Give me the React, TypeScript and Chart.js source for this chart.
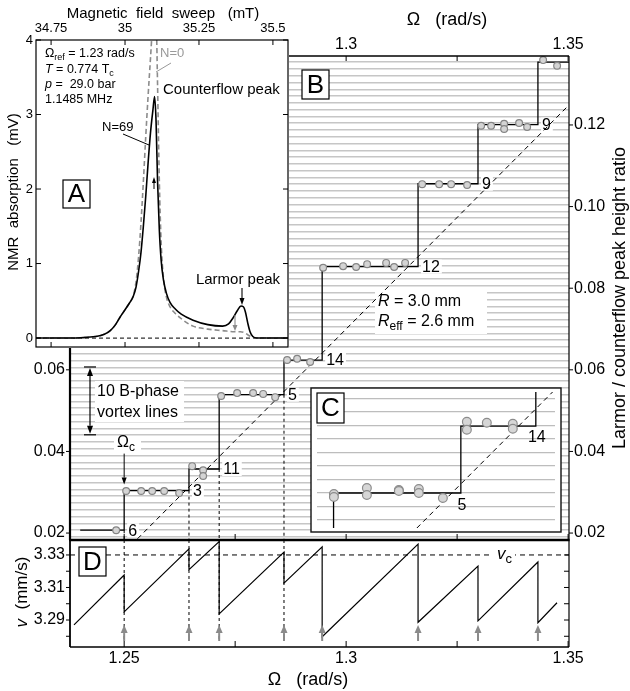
import React, { useEffect, useRef } from "react";
import { Chart, registerables } from "chart.js";
Chart.register(...registerables);

const FF = '"Liberation Sans", Arial, Helvetica, sans-serif';
const W = 630;
const H = 691;

// ---------- shared rotation axis (panels B and D) ----------
const omegaMin = 1.2378;
const omegaMax = 1.3502;
const omegaTicks = [1.25, 1.275, 1.3, 1.325, 1.35];
const omegaTopLabels = ["", "", "1.3", "", "1.35"];
const omegaBottomLabels = ["1.25", "", "1.3", "", "1.35"];

// ---------- panel B ----------
const ratioMin = 0.0183;
const ratioMax = 0.1369;
const ratioTicksRight = [0.02, 0.04, 0.06, 0.08, 0.1, 0.12];
const ratioLabelsRight = ["0.02", "0.04", "0.06", "0.08", "0.10", "0.12"];
const ratioTicksLeft = [0.02, 0.04, 0.06];
const ratioLabelsLeft = ["0.02", "0.04", "0.06"];
const vortexLineSpacing = 0.001662;
const vortexLineBase = 0.0207;

const stepStartOmega = 1.2401;
const jumpOmega = [1.25, 1.2646, 1.2714, 1.286, 1.2946, 1.3162, 1.3297, 1.3432];
const stepLevels = [0.0207, 0.0304, 0.0357, 0.0539, 0.0624, 0.0853, 0.1056, 0.1201, 0.1354];
const jumpCounts = ["6", "3", "11", "5", "14", "12", "9", "9"];

const pointOmega = [
  1.2482, 1.25045, 1.25383, 1.25631, 1.25901, 1.26239, 1.26532, 1.26779, 1.26779,
  1.27185, 1.27545, 1.27905, 1.28131, 1.28401, 1.28671, 1.28896, 1.29189, 1.29482,
  1.29932, 1.30225, 1.30473, 1.30901, 1.31081, 1.31329, 1.31712, 1.32095, 1.32365,
  1.32725, 1.33041, 1.33266, 1.33559, 1.33559, 1.33896, 1.34077, 1.34437, 1.34752,
];
const pointRatio = [
  0.0207, 0.0303, 0.0303, 0.0303, 0.0303, 0.0298, 0.0364, 0.0354, 0.034,
  0.0536, 0.0543, 0.0543, 0.0541, 0.0533, 0.0624, 0.0627, 0.0619, 0.085,
  0.0854, 0.0852, 0.0859, 0.0862, 0.0852, 0.0862, 0.1055, 0.1055, 0.1055,
  0.1053, 0.1198, 0.1198, 0.1203, 0.119, 0.1205, 0.1195, 0.1359, 0.1345,
];
const diagOmega = [1.253, 1.3502];
const diagRatio = [0.0186, 0.1249];

// ---------- panel D ----------
const vMin = 3.2734;
const vMax = 3.3392;
const vTicks = [3.28, 3.29, 3.3, 3.31, 3.32, 3.33];
const vLabels = ["", "3.29", "", "3.31", "", "3.33"];
const vCritical = 3.33;
const sawStartOmega = 1.2387;
const sawStartV = 3.287;
const sawBefore = [3.3177, 3.3337, 3.3382, 3.3318, 3.335, 3.3367, 3.3232, 3.3257];
const sawAfter = [3.295, 3.321, 3.2938, 3.3127, 3.2797, 3.2886, 3.2895, 3.2883];
const sawEndOmega = 1.3475;
const sawEndV = 3.3006;
const arrowTipV = 3.2869;
const arrowTailV = 3.2771;

// ---------- inset A ----------
const fieldMin = 34.699;
const fieldMax = 35.551;
const fieldTicks = [34.75, 35, 35.25, 35.5];
const fieldLabels = ["34.75", "35", "35.25", "35.5"];
const absMin = -0.12;
const absMax = 4.0;
const absTicks = [0, 1, 2, 3, 4];
const absLabels = ["0", "1", "2", "3", "4"];
const fieldN69 = [
  34.699, 34.78, 34.85, 34.9, 34.93, 34.95, 34.966, 34.983, 35.0, 35.015, 35.027, 35.037,
  35.046, 35.054, 35.062, 35.07, 35.078, 35.086, 35.094, 35.1, 35.105, 35.11, 35.116,
  35.122, 35.13, 35.14, 35.152, 35.17, 35.19, 35.23, 35.28, 35.33, 35.35, 35.365, 35.38,
  35.392, 35.4, 35.407, 35.415, 35.423, 35.432, 35.445, 35.551,
];
const absN69 = [
  0, 0, 0.005, 0.02, 0.05, 0.1, 0.17, 0.28, 0.38, 0.47, 0.55, 0.68, 0.9, 1.15, 1.5, 1.9,
  2.35, 2.75, 3.05, 3.24, 2.9, 2.1, 1.45, 1.05, 0.78, 0.6, 0.48, 0.39, 0.32, 0.24, 0.18,
  0.16, 0.19, 0.27, 0.37, 0.43, 0.42, 0.35, 0.2, 0.08, 0.02, 0, 0,
];
const fieldN0 = [
  34.699, 34.78, 34.85, 34.9, 34.93, 34.95, 34.966, 34.983, 35.0, 35.015, 35.027, 35.037,
  35.046, 35.054, 35.062, 35.07, 35.078, 35.086, 35.093, 35.1, 35.106, 35.11, 35.116,
  35.122, 35.13, 35.14, 35.152, 35.17, 35.19, 35.23, 35.28, 35.33, 35.37, 35.39, 35.405,
  35.42, 35.435, 35.45, 35.551,
];
const absN0 = [
  0, 0, 0.005, 0.02, 0.05, 0.1, 0.17, 0.28, 0.38, 0.47, 0.56, 0.75, 1.1, 1.55, 2.1, 2.7,
  3.25, 3.75, 4.2, 4.6, 4.2, 3.4, 2.1, 1.3, 0.8, 0.55, 0.42, 0.33, 0.26, 0.16, 0.12, 0.1,
  0.085, 0.085, 0.07, 0.03, 0.005, 0, 0,
];

// ---------- inset C ----------
const cOmegaMin = 1.2695;
const cOmegaMax = 1.2968;
const cRatioMin = 0.0495;
const cRatioMax = 0.0662;
const cGridBase = 0.0538;
const cStepOmega = [1.2714, 1.2714, 1.286, 1.2946];
const cStepRatio = [0.0495, 0.0538, 0.062, 0.0662];
const cJumpLabels = ["5", "14"];
const cPointOmega = [
  1.27144, 1.27144, 1.27522, 1.27522, 1.27889, 1.27889, 1.28118, 1.28118, 1.28394,
  1.28669, 1.28669, 1.28898, 1.29196, 1.29196,
];
const cPointRatio = [
  0.05368, 0.05331, 0.05442, 0.05355, 0.05417, 0.05405, 0.05429, 0.0538, 0.05318,
  0.06254, 0.06156, 0.06242, 0.0623, 0.06168,
];
const cDiagOmega = [1.28095, 1.29655];
const cDiagRatio = [0.04949, 0.06623];

// ---------- helpers ----------
type Seg = { t: string; it?: boolean; sub?: boolean };

function richText(ctx: any, segs: Seg[], x: number, y: number, size: number, align = "left", color = "#000") {
  ctx.save();
  ctx.fillStyle = color;
  ctx.textBaseline = "middle";
  ctx.textAlign = "left";
  const fontOf = (s: Seg) => `${s.it ? "italic " : ""}${s.sub ? Math.round(size * 0.74) : size}px ${FF}`;
  let total = 0;
  for (const s of segs) {
    ctx.font = fontOf(s);
    total += ctx.measureText(s.t).width;
  }
  let cx = align === "center" ? x - total / 2 : align === "right" ? x - total : x;
  for (const s of segs) {
    ctx.font = fontOf(s);
    ctx.fillText(s.t, cx, s.sub ? y + size * 0.3 : y);
    cx += ctx.measureText(s.t).width;
  }
  ctx.restore();
  return total;
}

function seg(ctx: any, x1: number, y1: number, x2: number, y2: number, color = "#000", lw = 1, dash: number[] = []) {
  ctx.save();
  ctx.strokeStyle = color;
  ctx.lineWidth = lw;
  ctx.setLineDash(dash);
  ctx.beginPath();
  ctx.moveTo(x1, y1);
  ctx.lineTo(x2, y2);
  ctx.stroke();
  ctx.restore();
}

function arrow(ctx: any, x1: number, y1: number, x2: number, y2: number, color = "#000", lw = 1, hl = 7, hw = 6) {
  ctx.save();
  ctx.strokeStyle = color;
  ctx.fillStyle = color;
  ctx.lineWidth = lw;
  const a = Math.atan2(y2 - y1, x2 - x1);
  const bx = x2 - hl * Math.cos(a);
  const by = y2 - hl * Math.sin(a);
  ctx.beginPath();
  ctx.moveTo(x1, y1);
  ctx.lineTo(bx, by);
  ctx.stroke();
  ctx.beginPath();
  ctx.moveTo(x2, y2);
  ctx.lineTo(bx + (hw / 2) * Math.sin(a), by - (hw / 2) * Math.cos(a));
  ctx.lineTo(bx - (hw / 2) * Math.sin(a), by + (hw / 2) * Math.cos(a));
  ctx.closePath();
  ctx.fill();
  ctx.restore();
}

function letterBox(ctx: any, x: number, y: number, w: number, h: number, letter: string) {
  ctx.save();
  ctx.fillStyle = "#fff";
  ctx.fillRect(x, y, w, h);
  ctx.strokeStyle = "#000";
  ctx.lineWidth = 1.2;
  ctx.strokeRect(x, y, w, h);
  ctx.fillStyle = "#000";
  ctx.font = `26px ${FF}`;
  ctx.textAlign = "center";
  ctx.textBaseline = "middle";
  ctx.fillText(letter, x + w / 2, y + h / 2 + 1);
  ctx.restore();
}

function rotatedText(ctx: any, text: Seg[], x: number, y: number, size: number) {
  ctx.save();
  ctx.translate(x, y);
  ctx.rotate(-Math.PI / 2);
  richText(ctx, text, 0, 0, size, "center");
  ctx.restore();
}

// axis whose box has a fixed thickness, so that the chart area lands on exact pixels
function axis(position: string, min: number, max: number, values: number[], labels: string[] | null, thick: number, size = 16, pad = 4) {
  return {
    type: "linear",
    position,
    min,
    max,
    afterBuildTicks: (s: any) => {
      s.ticks = values.map((v) => ({ value: v }));
    },
    afterFit: (s: any) => {
      if (s.isHorizontal()) s.height = thick;
      else s.width = thick;
    },
    grid: { display: false, drawTicks: false },
    border: { display: false },
    ticks: {
      display: !!labels,
      autoSkip: false,
      maxRotation: 0,
      minRotation: 0,
      padding: pad,
      color: "#000",
      font: { family: FF, size },
      callback: (_v: any, i: number) => (labels ? labels[i] : ""),
    },
  };
}

function gridAxis(min: number, max: number, base: number, step: number, color: string, lw: number) {
  return {
    type: "linear",
    position: "left",
    min,
    max,
    afterBuildTicks: (s: any) => {
      const t: any[] = [];
      for (let k = -40; k <= 120; k++) {
        const v = base + k * step;
        if (v >= min && v <= max) t.push({ value: v });
      }
      s.ticks = t;
    },
    afterFit: (s: any) => {
      s.width = 0;
    },
    border: { display: false },
    ticks: { display: false },
    grid: { color, lineWidth: lw, drawTicks: false },
  };
}

const baseOptions = (padding: any, scales: any) => ({
  responsive: false,
  animation: false,
  devicePixelRatio: 1,
  events: [],
  layout: { padding },
  plugins: { legend: { display: false }, tooltip: { enabled: false }, title: { display: false } },
  scales,
});

const xy = (xs: number[], ys: number[]) => xs.map((x, i) => ({ x, y: ys[i] }));

// ---------- chart B ----------
function makeB(): any {
  const stepData = [
    { x: stepStartOmega, y: stepLevels[0] },
    ...jumpOmega.map((j, i) => ({ x: j, y: stepLevels[i + 1] })),
    { x: omegaMax, y: stepLevels[stepLevels.length - 1] },
  ];
  const verticals = jumpOmega.slice(0, 4).map((j, i) => ({
    type: "line",
    data: [
      { x: j, y: stepLevels[i] },
      { x: j, y: ratioMin },
    ],
    xAxisID: "x",
    yAxisID: "yR",
    borderColor: "#000",
    borderWidth: 1,
    borderDash: [3, 3],
    pointRadius: 0,
    order: 2,
  }));
  const decor = {
    id: "bDecor",
    beforeDatasetsDraw(chart: any) {
      const ctx = chart.ctx;
      const x = chart.scales.x;
      const y = chart.scales.yR;
      ctx.save();
      ctx.fillStyle = "#fff";
      ctx.font = `16px ${FF}`;
      jumpOmega.forEach((j, i) => {
        const px = x.getPixelForValue(j) + 3;
        const py = y.getPixelForValue(stepLevels[i]);
        const w = ctx.measureText(jumpCounts[i]).width;
        ctx.fillRect(px, py - 7, w + 3, 14);
      });
      ctx.fillRect(95, 381, 89, 41);
      ctx.fillRect(114, 436, 27, 17);
      ctx.fillRect(375, 292, 112, 42);
      ctx.restore();
    },
    afterDraw(chart: any) {
      const ctx = chart.ctx;
      const ca = chart.chartArea;
      const x = chart.scales.x;
      const y = chart.scales.yR;
      seg(ctx, ca.left, ca.top, ca.right, ca.top, "#000", 1.5);
      seg(ctx, ca.right, ca.top, ca.right, ca.bottom, "#000", 1.2);
      seg(ctx, ca.left, ca.top, ca.left, ca.bottom, "#000", 2.2);
      seg(ctx, ca.left - 1, ca.bottom, ca.right + 0.6, ca.bottom, "#000", 2.6);
      omegaTicks.forEach((v) => {
        const px = x.getPixelForValue(v);
        seg(ctx, px, ca.top, px, ca.top + 5);
        seg(ctx, px, ca.bottom, px, ca.bottom - 6);
      });
      ratioTicksRight.forEach((v) => {
        const py = y.getPixelForValue(v);
        seg(ctx, ca.right, py, ca.right + 4, py);
      });
      ratioTicksLeft.forEach((v) => {
        const py = y.getPixelForValue(v);
        seg(ctx, ca.left - 4, py, ca.left, py);
      });
      ctx.save();
      ctx.fillStyle = "#000";
      ctx.font = `16px ${FF}`;
      ctx.textAlign = "left";
      ctx.textBaseline = "middle";
      jumpOmega.forEach((j, i) => {
        ctx.fillText(jumpCounts[i], x.getPixelForValue(j) + 4, y.getPixelForValue(stepLevels[i]) + 1);
      });
      ctx.fillText("10 B-phase", 97, 392);
      ctx.fillText("vortex lines", 97, 413);
      ctx.restore();
      letterBox(ctx, 302, 70, 27, 29, "B");
      // bracket of ten vortex lines
      const bx = 90;
      const topPx = y.getPixelForValue(0.0607);
      const botPx = y.getPixelForValue(0.0607 - 10 * vortexLineSpacing);
      seg(ctx, bx - 6, topPx, bx + 6, topPx, "#000", 1.2);
      seg(ctx, bx - 6, botPx, bx + 6, botPx, "#000", 1.2);
      const mid = (topPx + botPx) / 2;
      arrow(ctx, bx, mid, bx, topPx + 1, "#000", 1.2, 8, 6);
      arrow(ctx, bx, mid, bx, botPx - 1, "#000", 1.2, 8, 6);
      // Omega_c
      const cx = x.getPixelForValue(jumpOmega[0]);
      const cy = y.getPixelForValue(stepLevels[1]);
      richText(ctx, [{ t: "Ω" }, { t: "c", sub: true }], 117, 443, 16);
      arrow(ctx, cx, cy - 37, cx, cy - 6, "#000", 1, 7, 5);
      richText(ctx, [{ t: "R", it: true }, { t: " = 3.0 mm" }], 378, 302, 16);
      richText(ctx, [{ t: "R", it: true }, { t: "eff", sub: true }, { t: " = 2.6 mm" }], 378, 322, 16);
      richText(ctx, [{ t: "Ω" }, { t: "   (rad/s)" }], 447, 20, 18, "center");
      rotatedText(ctx, [{ t: "Larmor / counterflow peak height ratio" }], 620, 298, 18);
    },
  };
  return {
    type: "line",
    data: {
      datasets: [
        {
          type: "line",
          data: xy(pointOmega, pointRatio),
          xAxisID: "x",
          yAxisID: "yR",
          showLine: false,
          pointRadius: 3.4,
          pointBackgroundColor: "#d4d4d4",
          pointBorderColor: "#858585",
          pointBorderWidth: 1.2,
          order: 0,
        },
        {
          type: "line",
          data: stepData,
          xAxisID: "x",
          yAxisID: "yR",
          stepped: "before",
          borderColor: "#000",
          borderWidth: 1.3,
          pointRadius: 0,
          order: 1,
        },
        ...verticals,
        {
          type: "line",
          data: xy(diagOmega, diagRatio),
          xAxisID: "x",
          yAxisID: "yR",
          borderColor: "#000",
          borderWidth: 1,
          borderDash: [5, 4],
          pointRadius: 0,
          order: 3,
        },
      ],
    },
    options: baseOptions(
      { left: 0, top: 0, right: 0, bottom: H - 540 },
      {
        x: axis("top", omegaMin, omegaMax, omegaTicks, omegaTopLabels, 56, 16, 1.5),
        yR: axis("right", ratioMin, ratioMax, ratioTicksRight, ratioLabelsRight, W - 569, 16, 5),
        yL: axis("left", ratioMin, ratioMax, ratioTicksLeft, ratioLabelsLeft, 70, 16, 5),
        yGrid: gridAxis(ratioMin, ratioMax, vortexLineBase, vortexLineSpacing, "#c6c6c6", 1.6),
      }
    ),
    plugins: [decor],
  };
}

// ---------- chart D ----------
function makeD(): any {
  const sawData: any[] = [{ x: sawStartOmega, y: sawStartV }];
  jumpOmega.forEach((j, i) => {
    sawData.push({ x: j, y: sawBefore[i] });
    sawData.push({ x: j, y: sawAfter[i] });
  });
  sawData.push({ x: sawEndOmega, y: sawEndV });
  const verticals = jumpOmega.slice(0, 4).map((j) => ({
    type: "line",
    data: [
      { x: j, y: vMax },
      { x: j, y: arrowTailV },
    ],
    xAxisID: "x",
    yAxisID: "y",
    borderColor: "#000",
    borderWidth: 1,
    borderDash: [3, 3],
    pointRadius: 0,
    order: 2,
  }));
  const decor = {
    id: "dDecor",
    afterDraw(chart: any) {
      const ctx = chart.ctx;
      const ca = chart.chartArea;
      const x = chart.scales.x;
      const y = chart.scales.y;
      seg(ctx, ca.left, ca.top, ca.left, ca.bottom, "#000", 1.8);
      seg(ctx, ca.left, ca.bottom, ca.right, ca.bottom, "#000", 1.5);
      seg(ctx, ca.right, ca.top, ca.right, ca.bottom, "#000", 1.2);
      omegaTicks.forEach((v) => {
        const px = x.getPixelForValue(v);
        seg(ctx, px, ca.bottom, px, ca.bottom - 6);
      });
      vTicks.forEach((v) => {
        const py = y.getPixelForValue(v);
        seg(ctx, ca.left - 4, py, ca.left, py);
        seg(ctx, ca.right - 5, py, ca.right, py);
      });
      jumpOmega.forEach((j) => {
        const px = x.getPixelForValue(j);
        arrow(ctx, px, y.getPixelForValue(arrowTailV), px, y.getPixelForValue(arrowTipV), "#8a8a8a", 2, 8, 7);
      });
      ctx.save();
      ctx.fillStyle = "#fff";
      ctx.fillRect(491, 546, 24, 20);
      ctx.restore();
      richText(ctx, [{ t: "v", it: true }, { t: "c", sub: true }], 497, 554, 17);
      letterBox(ctx, 79, 547, 27, 29, "D");
      richText(ctx, [{ t: "Ω" }, { t: "   (rad/s)" }], 308, 680, 18, "center");
      rotatedText(ctx, [{ t: "v", it: true }, { t: "  (mm/s)" }], 22, 592, 17);
    },
  };
  return {
    type: "line",
    data: {
      datasets: [
        {
          type: "line",
          data: sawData,
          xAxisID: "x",
          yAxisID: "y",
          borderColor: "#000",
          borderWidth: 1.2,
          pointRadius: 0,
          order: 0,
        },
        {
          type: "line",
          data: [
            { x: omegaMin, y: vCritical },
            { x: omegaMax, y: vCritical },
          ],
          xAxisID: "x",
          yAxisID: "y",
          borderColor: "#000",
          borderWidth: 1,
          borderDash: [5, 4],
          pointRadius: 0,
          order: 1,
        },
        ...verticals,
      ],
    },
    options: baseOptions(
      { left: 0, top: 540, right: W - 569, bottom: 0 },
      {
        x: axis("bottom", omegaMin, omegaMax, omegaTicks, omegaBottomLabels, H - 647, 16, 1.5),
        y: axis("left", vMin, vMax, vTicks, vLabels, 70, 16, 5),
      }
    ),
    plugins: [decor],
  };
}

// ---------- chart A ----------
function makeA(): any {
  const decor = {
    id: "aDecor",
    beforeDraw(chart: any) {
      const ctx = chart.ctx;
      const ca = chart.chartArea;
      ctx.save();
      ctx.fillStyle = "#fff";
      ctx.fillRect(ca.left - 1, ca.top - 1, ca.right - ca.left + 2, ca.bottom - ca.top + 2);
      ctx.restore();
    },
    afterDraw(chart: any) {
      const ctx = chart.ctx;
      const ca = chart.chartArea;
      const x = chart.scales.x;
      const y = chart.scales.y;
      ctx.save();
      ctx.strokeStyle = "#000";
      ctx.lineWidth = 1.2;
      ctx.strokeRect(ca.left, ca.top, ca.right - ca.left, ca.bottom - ca.top);
      ctx.restore();
      fieldTicks.forEach((v) => {
        const px = x.getPixelForValue(v);
        seg(ctx, px, ca.top, px, ca.top + 5);
        seg(ctx, px, ca.bottom, px, ca.bottom - 5);
      });
      absTicks.forEach((v) => {
        const py = y.getPixelForValue(v);
        seg(ctx, ca.left, py, ca.left + 5, py);
        seg(ctx, ca.right - 5, py, ca.right, py);
      });
      richText(ctx, [{ t: "Ω" }, { t: "ref", sub: true }, { t: " = 1.23 rad/s" }], 45, 54, 12.5);
      richText(ctx, [{ t: "T", it: true }, { t: " = 0.774 T" }, { t: "c", sub: true }], 45, 70, 12.5);
      richText(ctx, [{ t: "p", it: true }, { t: " =  29.0 bar" }], 45, 85, 12.5);
      richText(ctx, [{ t: "1.1485 MHz" }], 45, 100, 12.5);
      richText(ctx, [{ t: "N=0" }], 160, 53, 13, "left", "#999");
      seg(ctx, 156, 72, 171, 63, "#999", 1);
      richText(ctx, [{ t: "Counterflow peak" }], 163, 90, 15);
      richText(ctx, [{ t: "N=69" }], 102, 127, 13);
      seg(ctx, 123, 134, 149, 145, "#000", 1);
      arrow(ctx, 154, 189, 154, 177, "#000", 1, 6, 4);
      letterBox(ctx, 63, 180, 27, 28, "A");
      richText(ctx, [{ t: "Larmor peak" }], 238, 280, 15, "center");
      arrow(ctx, 242, 288, 242, 305, "#000", 1.1, 7, 5);
      arrow(ctx, 235, 315, 235, 331, "#8a8a8a", 1.1, 6, 5);
      richText(ctx, [{ t: "Magnetic  field  sweep   (mT)" }], 163, 14, 15, "center");
      rotatedText(ctx, [{ t: "NMR  absorption   (mV)" }], 14, 192, 15);
    },
  };
  return {
    type: "line",
    data: {
      datasets: [
        {
          type: "line",
          data: xy(fieldN69, absN69),
          xAxisID: "x",
          yAxisID: "y",
          borderColor: "#000",
          borderWidth: 1.6,
          pointRadius: 0,
          cubicInterpolationMode: "monotone",
          order: 0,
        },
        {
          type: "line",
          data: xy(fieldN0, absN0),
          xAxisID: "x",
          yAxisID: "y",
          borderColor: "#8c8c8c",
          borderWidth: 1.6,
          borderDash: [5, 3],
          pointRadius: 0,
          cubicInterpolationMode: "monotone",
          order: 1,
        },
        {
          type: "line",
          data: [
            { x: fieldMin, y: 0 },
            { x: fieldMax, y: 0 },
          ],
          xAxisID: "x",
          yAxisID: "y",
          borderColor: "#333",
          borderWidth: 1.2,
          borderDash: [4, 3],
          pointRadius: 0,
          order: 2,
        },
      ],
    },
    options: baseOptions(
      { left: 0, top: 0, right: W - 288, bottom: H - 347 },
      {
        x: axis("top", fieldMin, fieldMax, fieldTicks, fieldLabels, 40, 13, 4),
        y: axis("left", absMin, absMax, absTicks, absLabels, 36, 13, 3),
      }
    ),
    plugins: [decor],
  };
}

// ---------- chart C ----------
function makeC(): any {
  const decor = {
    id: "cDecor",
    beforeDraw(chart: any) {
      const ctx = chart.ctx;
      const ca = chart.chartArea;
      ctx.save();
      ctx.fillStyle = "#fff";
      ctx.fillRect(ca.left - 6, ca.top - 4, ca.right - ca.left + 12, ca.bottom - ca.top + 8);
      ctx.restore();
    },
    afterDraw(chart: any) {
      const ctx = chart.ctx;
      const ca = chart.chartArea;
      const x = chart.scales.x;
      const y = chart.scales.y;
      ctx.save();
      ctx.strokeStyle = "#111";
      ctx.lineWidth = 1.4;
      ctx.strokeRect(ca.left - 6, ca.top - 4, ca.right - ca.left + 12, ca.bottom - ca.top + 8);
      ctx.restore();
      letterBox(ctx, 317, 393, 27, 30, "C");
      richText(ctx, [{ t: cJumpLabels[0] }], x.getPixelForValue(cStepOmega[2]) + 1, y.getPixelForValue(cStepRatio[1]) + 13, 16, "center");
      richText(ctx, [{ t: cJumpLabels[1] }], x.getPixelForValue(cStepOmega[3]) + 1, y.getPixelForValue(cStepRatio[2]) + 11, 16, "center");
    },
  };
  return {
    type: "line",
    data: {
      datasets: [
        {
          type: "line",
          data: xy(cPointOmega, cPointRatio),
          xAxisID: "x",
          yAxisID: "y",
          showLine: false,
          pointRadius: 4.4,
          pointBackgroundColor: "#d6d6d6",
          pointBorderColor: "#8c8c8c",
          pointBorderWidth: 1.2,
          order: 0,
        },
        {
          type: "line",
          data: xy(cStepOmega, cStepRatio),
          xAxisID: "x",
          yAxisID: "y",
          stepped: "before",
          borderColor: "#000",
          borderWidth: 1.3,
          pointRadius: 0,
          order: 1,
        },
        {
          type: "line",
          data: xy(cDiagOmega, cDiagRatio),
          xAxisID: "x",
          yAxisID: "y",
          borderColor: "#000",
          borderWidth: 1,
          borderDash: [5, 4],
          pointRadius: 0,
          order: 2,
        },
      ],
    },
    options: baseOptions(
      { left: 317, top: 392, right: W - 555, bottom: H - 528 },
      {
        x: { type: "linear", display: false, min: cOmegaMin, max: cOmegaMax },
        y: { type: "linear", display: false, min: cRatioMin, max: cRatioMax },
        yGrid: gridAxis(cRatioMin, cRatioMax, cGridBase, vortexLineSpacing, "#bdbdbd", 1.3),
      }
    ),
    plugins: [decor],
  };
}

export default function App() {
  const bRef = useRef<HTMLCanvasElement>(null);
  const dRef = useRef<HTMLCanvasElement>(null);
  const aRef = useRef<HTMLCanvasElement>(null);
  const cRef = useRef<HTMLCanvasElement>(null);

  useEffect(() => {
    const charts: Chart[] = [];
    charts.push(new Chart(bRef.current as HTMLCanvasElement, makeB()));
    charts.push(new Chart(dRef.current as HTMLCanvasElement, makeD()));
    charts.push(new Chart(aRef.current as HTMLCanvasElement, makeA()));
    charts.push(new Chart(cRef.current as HTMLCanvasElement, makeC()));
    return () => charts.forEach((c) => c.destroy());
  }, []);

  const cs = (z: number): any => ({ position: "absolute", left: 0, top: 0, width: W, height: H, zIndex: z });
  return (
    <div style={{ position: "absolute", left: 0, top: 0, width: W, height: H, background: "#fff", overflow: "hidden" }}>
      <canvas ref={bRef} width={W} height={H} style={cs(1)} />
      <canvas ref={dRef} width={W} height={H} style={cs(1)} />
      <canvas ref={aRef} width={W} height={H} style={cs(2)} />
      <canvas ref={cRef} width={W} height={H} style={cs(3)} />
    </div>
  );
}
